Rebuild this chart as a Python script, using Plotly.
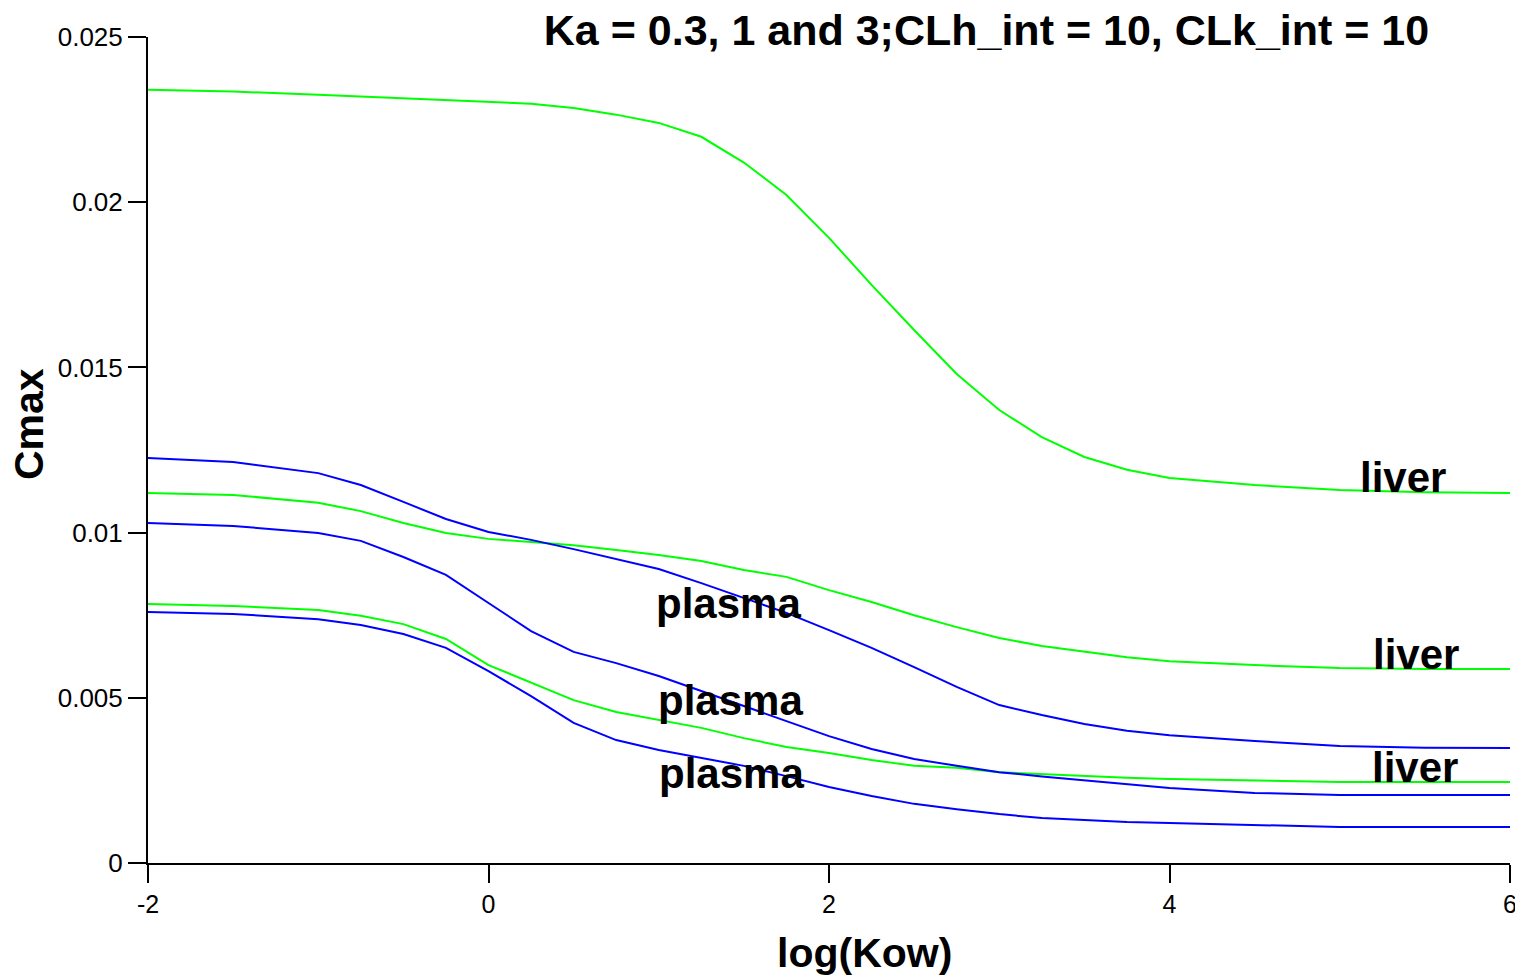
import plotly.graph_objects as go

# x grid: log(Kow)
log_kow = [-2, -1.5, -1, -0.75, -0.5, -0.25, 0, 0.25, 0.5, 0.75, 1, 1.25, 1.5, 1.75,
           2, 2.25, 2.5, 2.75, 3, 3.25, 3.5, 3.75, 4, 4.5, 5, 5.5, 6]

# liver (green) curves, Ka = 3, 1, 0.3
liver_ka3 = [0.02340, 0.02335, 0.02325, 0.02320, 0.02315, 0.02310, 0.02303, 0.02298, 0.02285,
             0.02265, 0.02240, 0.02198, 0.02120, 0.02022, 0.01892, 0.01750, 0.01613, 0.01480,
             0.01371, 0.01289, 0.01229, 0.01190, 0.01165, 0.01144, 0.01129, 0.01122, 0.01120]
liver_ka1 = [0.01120, 0.01114, 0.01090, 0.01065, 0.01029, 0.00999, 0.00981, 0.00972, 0.00962,
             0.00947, 0.00932, 0.00914, 0.00887, 0.00866, 0.00826, 0.00790, 0.00750, 0.00714,
             0.00681, 0.00657, 0.00639, 0.00623, 0.00611, 0.00599, 0.00590, 0.00587, 0.00587]
liver_ka03 = [0.00784, 0.00778, 0.00766, 0.00748, 0.00723, 0.00678, 0.00599, 0.00545, 0.00493,
              0.00457, 0.00433, 0.00409, 0.00378, 0.00351, 0.00333, 0.00312, 0.00294, 0.00288,
              0.00275, 0.00269, 0.00263, 0.00258, 0.00254, 0.00250, 0.00245, 0.00245, 0.00245]

# plasma (blue) curves, Ka = 3, 1, 0.3
plasma_ka3 = [0.01226, 0.01214, 0.01180, 0.01144, 0.01093, 0.01041, 0.01002, 0.00978, 0.00950,
              0.00920, 0.00890, 0.00847, 0.00802, 0.00757, 0.00705, 0.00651, 0.00593, 0.00533,
              0.00478, 0.00448, 0.00421, 0.00400, 0.00387, 0.00369, 0.00354, 0.00349, 0.00348]
plasma_ka1 = [0.01029, 0.01020, 0.00999, 0.00975, 0.00926, 0.00872, 0.00787, 0.00702, 0.00639,
              0.00605, 0.00566, 0.00521, 0.00475, 0.00430, 0.00384, 0.00345, 0.00315, 0.00294,
              0.00275, 0.00262, 0.00251, 0.00239, 0.00227, 0.00212, 0.00206, 0.00206, 0.00206]
plasma_ka03 = [0.00760, 0.00754, 0.00738, 0.00720, 0.00693, 0.00651, 0.00581, 0.00505, 0.00424,
               0.00372, 0.00342, 0.00318, 0.00294, 0.00263, 0.00230, 0.00203, 0.00179, 0.00163,
               0.00148, 0.00136, 0.00130, 0.00124, 0.00121, 0.00115, 0.00109, 0.00109, 0.00109]

x_ticks = [-2, 0, 2, 4, 6]
x_ticktext = ["-2", "0", "2", "4", "6"]
y_ticks = [0, 0.005, 0.01, 0.015, 0.02, 0.025]
y_ticktext = ["0", "0.005", "0.01", "0.015", "0.02", "0.025"]

labels = ["liver", "liver", "liver", "plasma", "plasma", "plasma"]
label_x = [5.37, 5.45, 5.44, 1.41, 1.42, 1.43]
label_y = [0.01168, 0.0063, 0.00288, 0.00784, 0.00493, 0.00272]

GREEN = "#00ff00"
BLUE = "#0000ff"
FONT = "Arial, Liberation Sans, sans-serif"

L, R, T, B, W, H = 140, 13, 29, 116, 1515, 971
PW, PH = W - L - R, H - T - B

fig = go.Figure()
for ys in [liver_ka3, liver_ka1, liver_ka03]:
    fig.add_trace(go.Scatter(x=log_kow, y=ys, mode="lines",
                             line=dict(color=GREEN, width=2), showlegend=False))
for ys in [plasma_ka3, plasma_ka1, plasma_ka03]:
    fig.add_trace(go.Scatter(x=log_kow, y=ys, mode="lines",
                             line=dict(color=BLUE, width=2), showlegend=False))

for t, xx, yy in zip(labels, label_x, label_y):
    fig.add_annotation(x=xx, y=yy, xref="x", yref="y", text="<b>%s</b>" % t,
                       showarrow=False, xanchor="center", yanchor="middle",
                       font=dict(family=FONT, size=42, color="black"))

# axis titles (placed as in the reference)
fig.add_annotation(x=(856 - L) / PW, y=-(945 - (T + PH)) / PH, xref="paper", yref="paper",
                   text="<b>log(Kow)</b>", showarrow=False, xanchor="center", yanchor="middle",
                   font=dict(family=FONT, size=41, color="black"))
fig.add_annotation(x=(21 - L) / PW, y=1 - (416 - T) / PH, xref="paper", yref="paper",
                   text="<b>Cmax</b>", textangle=-90, showarrow=False,
                   xanchor="center", yanchor="middle",
                   font=dict(family=FONT, size=41, color="black"))

fig.update_layout(
    width=W, height=H,
    paper_bgcolor="white", plot_bgcolor="white",
    margin=dict(l=L, r=R, t=T, b=B),
    title=dict(text="<b>Ka = 0.3, 1 and 3;CLh_int = 10, CLk_int = 10</b>",
               x=(978.5 - L) / PW, xref="paper", xanchor="center",
               y=1 - 22 / H, yref="container", yanchor="middle",
               font=dict(family=FONT, size=43, color="black")),
    font=dict(family=FONT, color="black"),
)
fig.update_xaxes(range=[-2, 6], tickvals=x_ticks, ticktext=x_ticktext, automargin=False,
                 showgrid=False, zeroline=False, showline=True, linecolor="black", linewidth=2,
                 ticks="outside", ticklen=18, tickwidth=2, tickcolor="black",
                 tickfont=dict(family=FONT, size=25, color="black"))
fig.update_yaxes(range=[0, 0.025], tickvals=y_ticks, ticktext=y_ticktext, automargin=False,
                 showgrid=False, zeroline=False, showline=True, linecolor="black", linewidth=2,
                 ticks="outside", ticklen=18, tickwidth=2, tickcolor="black",
                 tickfont=dict(family=FONT, size=26, color="black"))

fig.write_html("out.html")
